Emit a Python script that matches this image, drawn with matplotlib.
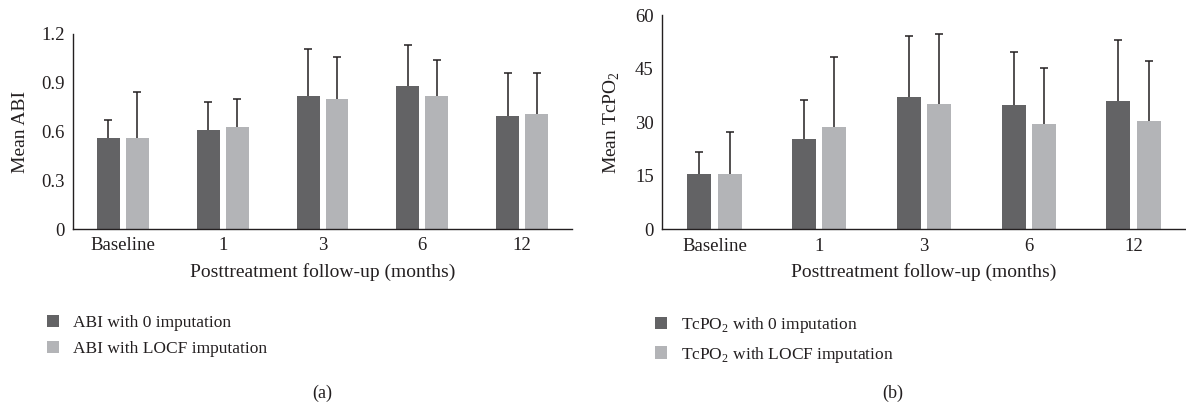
import numpy as np
import matplotlib
matplotlib.use('Agg')
import matplotlib.pyplot as plt

plt.rcParams['font.family'] = ['Liberation Serif', 'DejaVu Serif']
plt.rcParams['mathtext.fontset'] = 'custom'
plt.rcParams['mathtext.rm'] = 'Liberation Serif'

categories = ['Baseline', '1', '3', '6', '12']

abi_zero = [0.56, 0.61, 0.82, 0.88, 0.695]
abi_zero_sd = [0.11, 0.17, 0.285, 0.25, 0.265]
abi_locf = [0.56, 0.63, 0.80, 0.82, 0.705]
abi_locf_sd = [0.28, 0.17, 0.26, 0.22, 0.255]

tcpo_zero = [15.5, 25.3, 37.0, 34.8, 35.9]
tcpo_zero_sd = [6.1, 11.0, 17.2, 14.9, 17.1]
tcpo_locf = [15.5, 28.6, 35.1, 29.5, 30.3]
tcpo_locf_sd = [11.8, 19.6, 19.7, 15.7, 16.8]

dark = '#636365'
light = '#b3b4b7'
ecol = '#231f20'

fig = plt.figure(figsize=(11.86, 4.08), dpi=100)
ax1 = fig.add_axes([0.0616, 0.4387, 0.4207, 0.478])
ax2 = fig.add_axes([0.5582, 0.4380, 0.4418, 0.5245])

def draw(ax, v0, s0, v1, s1, ymax, step, ylab, lab0, lab1):
    x = np.arange(len(categories))
    w = 0.23
    off = 0.145
    z = np.zeros(len(categories))
    ax.bar(x - off, v0, w, color=dark, label=lab0, zorder=2)
    ax.bar(x + off, v1, w, color=light, label=lab1, zorder=2)
    for xs, v, s in [(x - off, v0, s0), (x + off, v1, s1)]:
        eb = ax.errorbar(xs, v, yerr=[z, s], fmt='none', ecolor=ecol,
                         elinewidth=1.1, capsize=3, capthick=1.1, zorder=1)
        eb[1][0].set_visible(False)
    ax.set_xlim(-0.5, len(categories) - 0.5)
    ax.set_ylim(0, ymax)
    ax.set_yticks(np.arange(0, ymax + step / 2, step))
    ax.set_xticks(x)
    ax.set_xticklabels(categories)
    ax.tick_params(length=0, labelsize=13.5, colors='#231f20', pad=6)
    for s in ['top', 'right']:
        ax.spines[s].set_visible(False)
    for s in ['left', 'bottom']:
        ax.spines[s].set_color('#231f20')
        ax.spines[s].set_linewidth(1.0)
        ax.spines[s].set_zorder(3)
    ax.set_ylabel(ylab, fontsize=14, color='#231f20', labelpad=9)
    ax.set_xlabel('Posttreatment follow-up (months)', fontsize=14, color='#231f20', labelpad=6)

draw(ax1, abi_zero, abi_zero_sd, abi_locf, abi_locf_sd, 1.2, 0.3,
     'Mean ABI', 'ABI with 0 imputation', 'ABI with LOCF imputation')
ax1.set_yticklabels(['0', '0.3', '0.6', '0.9', '1.2'])
draw(ax2, tcpo_zero, tcpo_zero_sd, tcpo_locf, tcpo_locf_sd, 60, 15,
     'Mean TcPO$_{\\mathregular{2}}$', 'TcPO$_{\\mathregular{2}}$ with 0 imputation',
     'TcPO$_{\\mathregular{2}}$ with LOCF imputation')

for ax, xl in [(ax1, 0.034), (ax2, 0.546)]:
    leg = ax.legend(loc='upper left', bbox_to_anchor=(xl, 0.245), bbox_transform=fig.transFigure,
                    frameon=False, fontsize=12.5, handlelength=0.7, handleheight=0.7,
                    handletextpad=0.8, labelspacing=0.55, borderaxespad=0)
    for t in leg.get_texts():
        t.set_color('#231f20')

fig.text(0.2715, 0.037, '(a)', ha='center', va='center', fontsize=13, color='#231f20')
fig.text(0.7530, 0.037, '(b)', ha='center', va='center', fontsize=13, color='#231f20')

fig.savefig('out.png', dpi=100, facecolor='white')
